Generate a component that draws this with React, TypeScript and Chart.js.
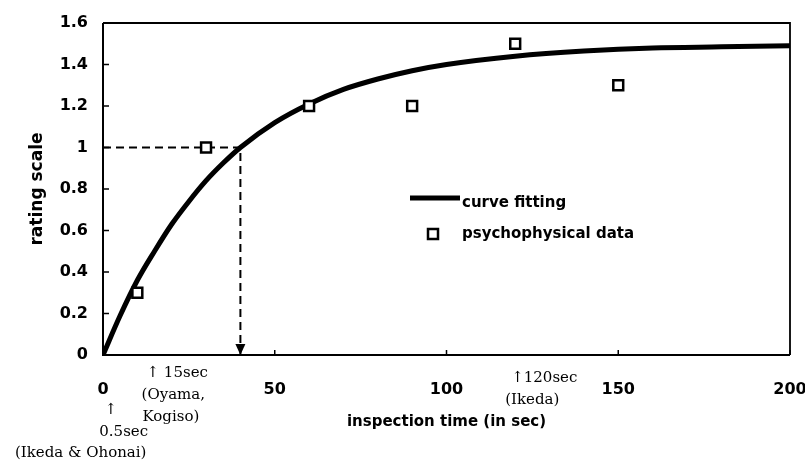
import React, { useEffect, useRef } from 'react';
import { Chart, registerables } from 'chart.js';

Chart.register(...registerables);

// ---- data ----
const fitTimes = [0, 5, 10, 15, 20, 25, 30, 35, 40, 50, 60, 70, 80, 90, 100, 120, 140, 160, 180, 200];
const fitRatings = [0, 0.19, 0.36, 0.5, 0.63, 0.74, 0.84, 0.925, 1.0, 1.12, 1.21, 1.28, 1.33, 1.37, 1.4, 1.44, 1.465, 1.48, 1.485, 1.49];
const dataTimes = [10, 30, 60, 90, 120, 150];
const dataRatings = [0.3, 1.0, 1.2, 1.2, 1.5, 1.3];
const guideTimes = [0, 40, 40];
const guideRatings = [1, 1, 0];
const xTicks = [0, 50, 100, 150, 200];
const xTickLabels = ['0', '50', '100', '150', '200'];
const yTicks = [0, 0.2, 0.4, 0.6, 0.8, 1.0, 1.2, 1.4, 1.6];
const yTickLabels = ['0', '0.2', '0.4', '0.6', '0.8', '1', '1.2', '1.4', '1.6'];
const seriesLabels = ['curve fitting', 'psychophysical data'];
const xTitle = 'inspection time (in sec)';
const yTitle = 'rating scale';
const note15 = ['↑ 15sec', '(Oyama,', 'Kogiso)'];
const noteHalf = ['↑', '0.5sec', '(Ikeda & Ohonai)'];
const note120 = ['↑120sec', '(Ikeda)'];
const guideArrowTime = 40;

const SANS = '"DejaVu Sans", sans-serif';
const SERIF = '"DejaVu Serif", serif';

const overlayPlugin = {
  id: 'overlay',
  beforeDatasetsDraw(chart: any) {
    const { ctx, chartArea: a, scales } = chart;
    const xs = scales.x;
    const ys = scales.y;
    ctx.save();
    ctx.strokeStyle = '#000';
    // frame
    ctx.lineWidth = 2;
    ctx.beginPath();
    ctx.moveTo(a.left, a.top);
    ctx.lineTo(a.left, a.bottom);
    ctx.lineTo(a.right, a.bottom);
    ctx.stroke();
    ctx.lineWidth = 1.8;
    ctx.beginPath();
    ctx.moveTo(a.left, a.top);
    ctx.lineTo(a.right, a.top);
    ctx.lineTo(a.right, a.bottom);
    ctx.stroke();
    // inner tick marks
    ctx.lineWidth = 1.5;
    ctx.beginPath();
    yTicks.forEach((v) => {
      const y = ys.getPixelForValue(v);
      ctx.moveTo(a.left, y);
      ctx.lineTo(a.left + 6, y);
    });
    xTicks.forEach((v) => {
      const x = xs.getPixelForValue(v);
      ctx.moveTo(x, a.bottom);
      ctx.lineTo(x, a.bottom - 5);
    });
    ctx.stroke();
    ctx.restore();
  },
  afterDatasetsDraw(chart: any) {
    const { ctx, scales } = chart;
    const xs = scales.x;
    const ys = scales.y;
    ctx.save();
    const ax = xs.getPixelForValue(guideArrowTime);
    const ay = ys.getPixelForValue(0);
    ctx.fillStyle = '#000';
    ctx.beginPath();
    ctx.moveTo(ax - 5, ay - 11);
    ctx.lineTo(ax + 5, ay - 11);
    ctx.lineTo(ax, ay);
    ctx.closePath();
    ctx.fill();
    ctx.restore();
  },
  afterDraw(chart: any) {
    const { ctx, scales } = chart;
    const xs = scales.x;
    ctx.save();
    ctx.fillStyle = '#000';
    ctx.strokeStyle = '#000';
    // legend
    ctx.lineWidth = 5;
    ctx.beginPath();
    ctx.moveTo(410, 198);
    ctx.lineTo(460, 198);
    ctx.stroke();
    ctx.lineWidth = 2.5;
    ctx.fillStyle = '#fff';
    ctx.fillRect(428, 229, 10, 10);
    ctx.strokeRect(428, 229, 10, 10);
    ctx.fillStyle = '#000';
    ctx.font = 'bold 15px ' + SANS;
    ctx.textAlign = 'left';
    ctx.textBaseline = 'middle';
    ctx.fillText(seriesLabels[0], 462, 203);
    ctx.fillText(seriesLabels[1], 462, 234);

    // annotations below the axis
    ctx.font = '15px ' + SERIF;
    const x15 = xs.getPixelForValue(15);
    ctx.textAlign = 'left';
    ctx.fillText(note15[0], x15 - 8, 373);
    ctx.fillText(note15[1], x15 - 13, 395);
    ctx.fillText(note15[2], x15 - 12, 417);

    const x0 = xs.getPixelForValue(0.5);
    ctx.textAlign = 'center';
    ctx.fillText(noteHalf[0], x0 + 6, 410);
    ctx.fillText(noteHalf[1], x0 + 19, 432);
    ctx.fillText(noteHalf[2], x0 - 24, 453);

    const x120 = xs.getPixelForValue(120);
    ctx.textAlign = 'left';
    ctx.fillText(note120[0], x120 - 4, 378);
    ctx.fillText(note120[1], x120 - 10, 400);
    ctx.restore();
  },
};

export default function App() {
  const canvasRef = useRef<HTMLCanvasElement | null>(null);

  useEffect(() => {
    const canvas = canvasRef.current;
    if (!canvas) return;
    const chart = new Chart(canvas, {
      type: 'scatter',
      data: {
        datasets: [
          {
            label: seriesLabels[1],
            data: dataTimes.map((t, i) => ({ x: t, y: dataRatings[i] })),
            pointStyle: 'rect',
            pointRadius: 7,
            borderColor: '#000',
            backgroundColor: '#fff',
            pointBorderWidth: 2.5,
            showLine: false,
            order: 0,
          },
          {
            label: seriesLabels[0],
            data: fitTimes.map((t, i) => ({ x: t, y: fitRatings[i] })),
            showLine: true,
            borderColor: '#000',
            borderWidth: 5,
            pointRadius: 0,
            cubicInterpolationMode: 'monotone',
            order: 1,
          },
          {
            label: 'guide',
            data: guideTimes.map((t, i) => ({ x: t, y: guideRatings[i] })),
            showLine: true,
            borderColor: '#000',
            borderWidth: 2,
            borderDash: [8, 5],
            pointRadius: 0,
            tension: 0,
            order: 2,
          },
        ],
      },
      options: {
        animation: false,
        responsive: false,
        devicePixelRatio: 1,
        layout: { padding: { top: 23, right: 15, left: 0, bottom: 0 } },
        plugins: { legend: { display: false }, tooltip: { enabled: false } },
        scales: {
          x: {
            type: 'linear',
            min: 0,
            max: 200,
            grid: { display: false, drawTicks: false },
            border: { display: false },
            afterBuildTicks: (s: any) => {
              s.ticks = xTicks.map((v) => ({ value: v }));
            },
            afterFit: (s: any) => {
              s.height = 106;
              s.paddingLeft = 0;
              s.paddingRight = 0;
            },
            ticks: {
              padding: 25,
              color: '#000',
              font: { family: SANS, size: 16, weight: 'bold' },
              maxRotation: 0,
              callback: (v: any) => xTickLabels[xTicks.indexOf(Number(v))] ?? '',
            },
            title: {
              display: true,
              text: xTitle,
              color: '#000',
              font: { family: SANS, size: 15, weight: 'bold' },
              padding: { top: 0, bottom: 30 },
            },
          },
          y: {
            type: 'linear',
            min: 0,
            max: 1.6,
            grid: { display: false, drawTicks: false },
            border: { display: false },
            afterBuildTicks: (s: any) => {
              s.ticks = yTicks.map((v) => ({ value: v }));
            },
            afterFit: (s: any) => {
              s.width = 103;
              s.paddingTop = 0;
              s.paddingBottom = 0;
            },
            ticks: {
              padding: 15,
              color: '#000',
              font: { family: SANS, size: 16, weight: 'bold' },
              callback: (v: any) => {
                const i = yTicks.findIndex((t) => Math.abs(t - Number(v)) < 1e-6);
                return i >= 0 ? yTickLabels[i] : '';
              },
            },
            title: {
              display: true,
              text: yTitle,
              color: '#000',
              font: { family: SANS, size: 17, weight: 'bold' },
              padding: { top: 27, bottom: 0 },
            },
          },
        },
      },
      plugins: [overlayPlugin],
    } as any);
    return () => chart.destroy();
  }, []);

  return (
    <div style={{ position: 'absolute', left: 0, top: 0, width: 805, height: 461, background: '#fff' }}>
      <canvas ref={canvasRef} width={805} height={461} />
    </div>
  );
}
